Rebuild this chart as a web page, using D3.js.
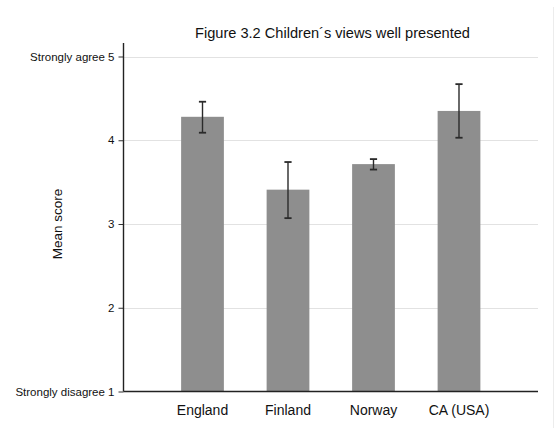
<!DOCTYPE html>
<html>
<head>
<meta charset="utf-8">
<script src="https://cdn.jsdelivr.net/npm/d3@7"></script>
<style>
  html, body { margin: 0; padding: 0; background: #ffffff; }
  svg { display: block; font-family: "Liberation Sans", Arial, sans-serif; }
</style>
</head>
<body>
<svg id="chart" width="558" height="428"></svg>
<script>
// Mean agreement score per country with confidence interval
const countries = ["England", "Finland", "Norway", "CA (USA)"];
const meanScores = [4.28, 3.41, 3.715, 4.35];
const ciLower = [4.09, 3.07, 3.65, 4.03];
const ciUpper = [4.46, 3.74, 3.775, 4.67];
const yTicks = [1, 2, 3, 4, 5];
const yTickLabels = ["Strongly disagree 1", "2", "3", "4", "Strongly agree 5"];
const titleText = "Figure 3.2 Children\u00b4s views well presented";
const yTitle = "Mean score";

(function () {
const svg = d3.select("#chart");
const W = 558, H = 428;
const plotLeft = 123.5, plotRight = 538, plotTop = 56.5, plotBottom = 391.5;

const x = d3.scaleBand()
  .domain(countries)
  .range([plotLeft, plotRight])
  .paddingInner(0.5)
  .paddingOuter(0.674);

const y = d3.scaleLinear().domain([1, 5]).range([plotBottom, plotTop]);

// faint frame line at the right edge
svg.append("line")
  .attr("x1", 553.5).attr("x2", 553.5)
  .attr("y1", 7).attr("y2", H)
  .attr("stroke", "#ececec").attr("stroke-width", 1);

// horizontal gridlines
svg.append("g")
  .selectAll("line")
  .data(yTicks.filter(d => d > 1))
  .join("line")
  .attr("x1", plotLeft).attr("x2", plotRight)
  .attr("y1", d => Math.round(y(d)) + 0.5)
  .attr("y2", d => Math.round(y(d)) + 0.5)
  .attr("stroke", "#e2e2e2").attr("stroke-width", 1.2);

// bars
const data = countries.map((c, i) => ({ c, m: meanScores[i], lo: ciLower[i], hi: ciUpper[i] }));
svg.append("g")
  .selectAll("rect")
  .data(data)
  .join("rect")
  .attr("x", d => x(d.c))
  .attr("width", x.bandwidth())
  .attr("y", d => y(d.m))
  .attr("height", d => y(1) - y(d.m))
  .attr("fill", "#8e8e8e");

// error bars
const eb = svg.append("g").attr("stroke", "#2a2a2a").attr("stroke-width", 1.4);
data.forEach(d => {
  const cx = x(d.c) + x.bandwidth() / 2;
  eb.append("line").attr("x1", cx).attr("x2", cx).attr("y1", y(d.hi)).attr("y2", y(d.lo));
  eb.append("line").attr("x1", cx - 3.6).attr("x2", cx + 3.6).attr("y1", y(d.hi)).attr("y2", y(d.hi)).attr("stroke-width", 1.8);
  eb.append("line").attr("x1", cx - 3.6).attr("x2", cx + 3.6).attr("y1", y(d.lo)).attr("y2", y(d.lo)).attr("stroke-width", 1.8);
});

// y axis
const yAxis = svg.append("g")
  .attr("transform", `translate(${plotLeft},0)`)
  .call(d3.axisLeft(y)
    .tickValues(yTicks)
    .tickFormat((d, i) => yTickLabels[i])
    .tickSize(5)
    .tickPadding(4));
yAxis.select(".domain").remove();
yAxis.selectAll(".tick line").attr("stroke", "#333");
yAxis.selectAll(".tick text")
  .attr("fill", "#111")
  .style("font-size", "11.5px")
  .style("font-family", "'Liberation Sans', Arial, sans-serif");
svg.append("line")
  .attr("x1", plotLeft).attr("x2", plotLeft)
  .attr("y1", 43).attr("y2", plotBottom)
  .attr("stroke", "#222").attr("stroke-width", 1.4);

// x axis baseline and labels
svg.append("line")
  .attr("x1", plotLeft).attr("x2", plotRight)
  .attr("y1", plotBottom).attr("y2", plotBottom)
  .attr("stroke", "#222").attr("stroke-width", 1.5);
const xAxis = svg.append("g")
  .attr("transform", `translate(0,${plotBottom})`)
  .call(d3.axisBottom(x).tickSize(0).tickPadding(14));
xAxis.select(".domain").remove();
xAxis.selectAll(".tick text")
  .attr("fill", "#111")
  .style("font-size", "14px")
  .style("font-family", "'Liberation Sans', Arial, sans-serif");

// y-axis title
svg.append("text")
  .attr("transform", `translate(62,${(plotTop + plotBottom) / 2}) rotate(-90)`)
  .attr("text-anchor", "middle")
  .attr("fill", "#111")
  .style("font-size", "13.5px")
  .text(yTitle);

// chart title
svg.append("text")
  .attr("x", 332.5).attr("y", 38)
  .attr("text-anchor", "middle")
  .attr("fill", "#111")
  .style("font-size", "14.6px")
  .text(titleText);
})();
</script>
</body>
</html>
